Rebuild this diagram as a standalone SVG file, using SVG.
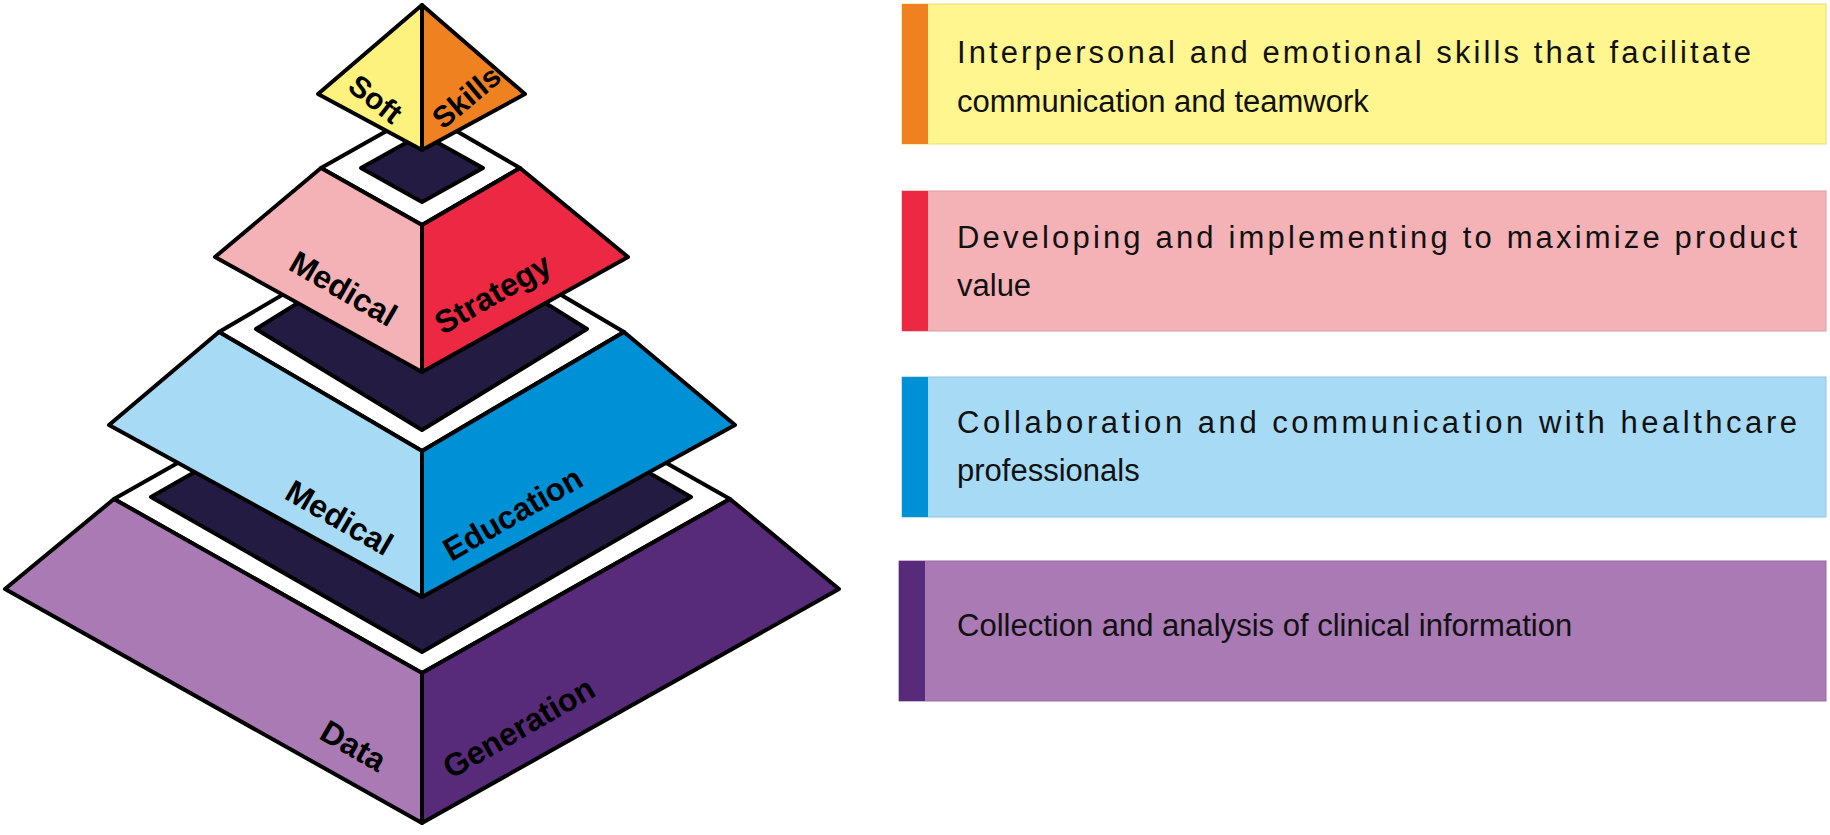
<svg xmlns="http://www.w3.org/2000/svg" width="1830" height="835" viewBox="0 0 1830 835">
<style>
.o{stroke:#000;stroke-width:4;stroke-linejoin:round}
.w{fill:#fff}
.d{fill:#231B42}
.l{font-family:"Liberation Sans",Arial,sans-serif;font-weight:bold;font-size:32px;fill:#000;text-anchor:middle;dominant-baseline:middle}
.t{font-family:"Liberation Sans",Arial,sans-serif;font-size:31px;fill:#111}
</style>
<rect width="1830" height="835" fill="#fff"/>
<g id="tier-data">
<polygon class="o w" points="114,499 422,325 730,499 422,673"/>
<polygon class="o d" points="151,497 422,342 691,497 422,652"/>
<polygon class="o" fill="#A97AB4" points="114,499 422,673 422,823 5,589"/>
<polygon class="o" fill="#582A7A" points="730,499 422,673 422,823 839,589"/>
<text class="l" transform="translate(352,748) rotate(30)">Data</text>
<text class="l" transform="translate(520,730) rotate(-30)">Generation</text>
</g>
<g id="tier-education">
<polygon class="o w" points="219,332 422,213 624,332 422,451"/>
<polygon class="o d" points="256,329 422,226 587,329 422,430"/>
<polygon class="o" fill="#A6DAF5" points="219,332 422,451 422,597 109,425"/>
<polygon class="o" fill="#0090D6" points="624,332 422,451 422,597 735,425"/>
<text class="l" transform="translate(338,520) rotate(30)">Medical</text>
<text class="l" transform="translate(514,516) rotate(-30)">Education</text>
</g>
<g id="tier-strategy">
<polygon class="o w" points="321,168 422,111 520,168 422,225"/>
<polygon class="o d" points="361,168 422,134 483,168 422,202"/>
<polygon class="o" fill="#F4B2B7" points="321,168 422,225 422,372 215,257"/>
<polygon class="o" fill="#EC2843" points="520,168 422,225 422,372 628,257"/>
<text class="l" transform="translate(342,291) rotate(30)">Medical</text>
<text class="l" transform="translate(494,296) rotate(-30)">Strategy</text>
</g>
<g id="tier-soft">
<polygon class="o" fill="#FEF27F" points="422,5 422,150 318,94"/>
<polygon class="o" fill="#EF8121" points="422,5 525,94 422,150"/>
<text class="l" style="font-size:30px" transform="translate(374,101) rotate(38)">Soft</text>
<text class="l" style="font-size:30px" transform="translate(468,99) rotate(-40)">Skills</text>
</g>
<g id="connectors"></g>
<g id="box-soft">
<rect x="902" y="4" width="924" height="140" fill="#FFF68F" stroke="#e8dd70" stroke-width="1"/>
<rect x="902" y="4" width="26" height="140" fill="#EF8121"/>
<text class="t" x="957" y="63" textLength="794" lengthAdjust="spacing">Interpersonal and emotional skills that facilitate</text>
<text class="t" x="957" y="112">communication and teamwork</text>
</g>
<g id="box-strategy">
<rect x="902" y="191" width="924" height="140" fill="#F4B2B7" stroke="#e09aa0" stroke-width="1"/>
<rect x="902" y="191" width="26" height="140" fill="#EC2843"/>
<text class="t" x="957" y="248" textLength="840" lengthAdjust="spacing">Developing and implementing to maximize product</text>
<text class="t" x="957" y="296">value</text>
</g>
<g id="box-education">
<rect x="902" y="377" width="924" height="140" fill="#A6DAF5" stroke="#8ec6e4" stroke-width="1"/>
<rect x="902" y="377" width="26" height="140" fill="#0090D6"/>
<text class="t" x="957" y="433" textLength="840" lengthAdjust="spacing">Collaboration and communication with healthcare</text>
<text class="t" x="957" y="481">professionals</text>
</g>
<g id="box-data">
<rect x="899" y="561" width="927" height="140" fill="#A97AB4" stroke="#956aa0" stroke-width="1"/>
<rect x="899" y="561" width="26" height="140" fill="#582A7A"/>
<text class="t" x="957" y="636">Collection and analysis of clinical information</text>
</g>
</svg>
